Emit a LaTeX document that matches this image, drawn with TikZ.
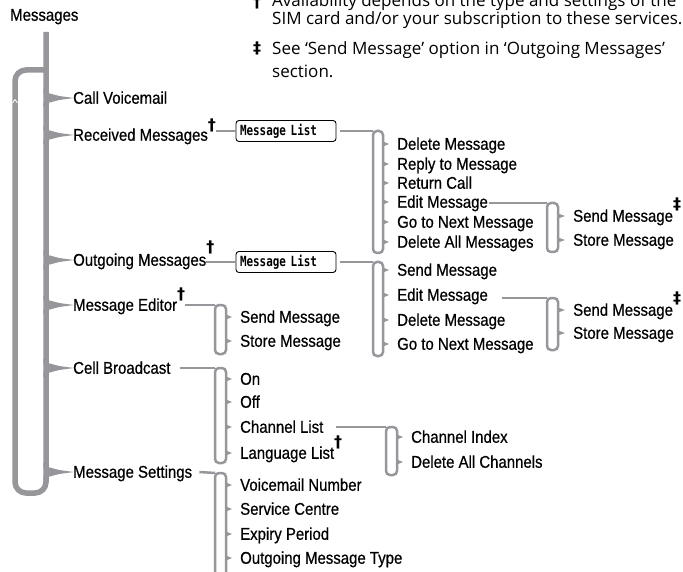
\documentclass[tikz,border=0pt]{standalone}
\usepackage{fontspec}
\usetikzlibrary{calc}
\setmainfont{Liberation Sans}
\newfontfamily\menufont{Liberation Sans}[FakeStretch=0.88,FakeBold=0.6]
\newfontfamily\notefont{Open Sans}
\newfontfamily\markfont{DejaVu Sans}
\newfontfamily\lcdfont{DejaVu Sans Mono}[FakeStretch=0.78]
\definecolor{treegray}{RGB}{150,150,155}
\newcommand\dagup[1]{\raisebox{#1}{\markfont\fontsize{16}{16}\selectfont\bfseries †}}
\newcommand\ddagup[1]{\raisebox{#1}{\markfont\fontsize{16}{16}\selectfont\bfseries ‡}}

\begin{document}
\begin{tikzpicture}[x=1pt,y=-1pt,
  item/.style={font=\menufont\fontsize{17}{19}\selectfont,inner sep=0pt,anchor=west,text height=11.5pt,text depth=0pt},
  note/.style={font=\notefont\fontsize{17}{19}\selectfont,inner sep=0pt,anchor=base west},
  lcdbox/.style={draw,line width=0.9pt,rounded corners=3pt,text width=92pt,align=left,inner xsep=4pt,minimum height=21pt,font=\lcdfont\bfseries\fontsize{14}{15}\selectfont},
  trunk/.style={draw=treegray,line width=5.5pt},
  branch/.style={draw=treegray,line width=2.5pt},
  brk/.style={branch,rounded corners=4pt},
  tick/.style={fill=treegray}]
  \useasboundingbox (0,0) rectangle (683,572);

  % notes
  \node[note] at (253,8) {\dagup{0pt}};
  \node[note] (n1) at (272,7) {Availability depends on the type and settings of the};
  \node[note] (n2) at (272,25) {SIM card and/or your subscription to these services.};
  \node[note] at (253,54) {\ddagup{0pt}};
  \node[note] (n3) at (272,55) {See ‘Send Message’ option in ‘Outgoing Messages’};
  \node[note] (n4) at (272,78) {section.};

  % main menu
  \node[item] (msg) at (10,15) {Messages};
  \node[item] (cv)  at (73,98)  {Call Voicemail};
  \node[item] (rcv) at (73,135) {Received Messages\dagup{10pt}};
  \node[item] (out) at (73,260) {Outgoing Messages\rlap{\dagup{13pt}}};
  \node[item] (edt) at (73,305) {Message Editor\dagup{11pt}};
  \node[item] (cb)  at (73,368) {Cell Broadcast};
  \node[item] (set) at (73,472) {Message Settings};

  \coordinate (top) at (46,32);
  \draw[trunk,rounded corners=11pt] (top) -- (46,493) -- (15,493) -- (15,70) -- (46,70);
  \draw[white,line width=0.8pt] (12.5,103) -- (15,99.5) -- (17.5,103);
  \foreach \n in {cv,rcv,out,edt,cb,set}{
    \coordinate (c) at (\n.west -| top);
    \draw[trunk] ($(c)+(0,-9)$) .. controls ($(c)+(0,-2)$) and ($(c)+(2,0)$) .. ($(c)+(7,0)$)
      .. controls ($(c)+(2,0)$) and ($(c)+(0,2)$) .. ($(c)+(0,9)$);
    \fill[treegray] ($(c)+(4,-4.5)$) -- ([xshift=-7pt]\n.west) -- ($(c)+(4,4.5)$) -- cycle;
  }

  % received messages
  \node[lcdbox] (rcvbox) at (286,131) {Message List};
  \node[item] (rd1) at (397,144) {Delete Message};
  \node[item] (rd2) at (397,164) {Reply to Message};
  \node[item] (rd3) at (397,183) {Return Call};
  \node[item] (rd4) at (397,202) {Edit Message};
  \node[item] (rd5) at (397,222) {Go to Next Message};
  \node[item] (rd6) at (397,242) {Delete All Messages};
  \coordinate (raT) at (373,131);
  \coordinate (raB) at (383,253);
  \draw[branch] (rcv.east |- rcvbox) -- (rcvbox.west);
  \draw[branch] ([xshift=4pt]rcvbox.east) -- (raT);
  \draw[brk] (raT) rectangle (raB);
  \foreach \n in {rd1,rd2,rd3,rd4,rd5,rd6}
    \fill[tick] ($(\n.west -| raB)+(0,-2.5)$) -- ([xshift=-8pt]\n.west) -- ($(\n.west -| raB)+(0,2.5)$) -- cycle;

  \node[item] (re1) at (573,216) {Send Message\ddagup{12pt}};
  \node[item] (re2) at (573,240) {Store Message};
  \coordinate (rbT) at (547,203);
  \coordinate (rbB) at (558,252);
  \draw[branch] ([xshift=1pt]rd4.east |- rbT) -- (rbT);
  \draw[brk] (rbT) rectangle (rbB);
  \foreach \n in {re1,re2}
    \fill[tick] ($(\n.west -| rbB)+(0,-2.5)$) -- ([xshift=-8pt]\n.west) -- ($(\n.west -| rbB)+(0,2.5)$) -- cycle;

  % outgoing messages
  \node[lcdbox] (outbox) at (286,262) {Message List};
  \node[item] (od1) at (397,270) {Send Message};
  \node[item] (od2) at (397,295) {Edit Message};
  \node[item] (od3) at (397,320) {Delete Message};
  \node[item] (od4) at (397,344) {Go to Next Message};
  \coordinate (oaT) at (373,262);
  \coordinate (oaB) at (383,356);
  \draw[branch] (out.east |- outbox) -- (outbox.west);
  \draw[branch] ([xshift=4pt]outbox.east) -- (oaT);
  \draw[brk] (oaT) rectangle (oaB);
  \foreach \n in {od1,od2,od3,od4}
    \fill[tick] ($(\n.west -| oaB)+(0,-2.5)$) -- ([xshift=-8pt]\n.west) -- ($(\n.west -| oaB)+(0,2.5)$) -- cycle;

  \node[item] (oe1) at (573,310) {Send Message\ddagup{12pt}};
  \node[item] (oe2) at (573,333) {Store Message};
  \coordinate (obT) at (547,298);
  \coordinate (obB) at (558,350);
  \draw[branch] ([xshift=14pt]od2.east |- obT) -- (obT);
  \draw[brk] (obT) rectangle (obB);
  \foreach \n in {oe1,oe2}
    \fill[tick] ($(\n.west -| obB)+(0,-2.5)$) -- ([xshift=-8pt]\n.west) -- ($(\n.west -| obB)+(0,2.5)$) -- cycle;

  % message editor
  \node[item] (es1) at (240,317) {Send Message};
  \node[item] (es2) at (240,341) {Store Message};
  \coordinate (eaT) at (215,305);
  \coordinate (eaB) at (226,354);
  \draw[branch] (edt.east) -- (eaT);
  \draw[brk] (eaT) rectangle (eaB);
  \foreach \n in {es1,es2}
    \fill[tick] ($(\n.west -| eaB)+(0,-2.5)$) -- ([xshift=-8pt]\n.west) -- ($(\n.west -| eaB)+(0,2.5)$) -- cycle;

  % cell broadcast
  \node[item] (cb1) at (240,379) {On};
  \node[item] (cb2) at (240,402) {Off};
  \node[item] (cb3) at (240,427) {Channel List};
  \node[item] (cb4) at (240,453) {Language List\dagup{11pt}};
  \coordinate (caT) at (215,368);
  \coordinate (caB) at (226,463);
  \draw[branch] ([xshift=9pt]cb.east) -- (caT);
  \draw[brk] (caT) rectangle (caB);
  \foreach \n in {cb1,cb2,cb3,cb4}
    \fill[tick] ($(\n.west -| caB)+(0,-2.5)$) -- ([xshift=-8pt]\n.west) -- ($(\n.west -| caB)+(0,2.5)$) -- cycle;

  \node[item] (ch1) at (411,437) {Channel Index};
  \node[item] (ch2) at (411,462) {Delete All Channels};
  \coordinate (cbT) at (386,427);
  \coordinate (cbB) at (397,475);
  \draw[branch] ([xshift=12pt]cb3.east) -- (cbT);
  \draw[brk] (cbT) rectangle (cbB);
  \foreach \n in {ch1,ch2}
    \fill[tick] ($(\n.west -| cbB)+(0,-2.5)$) -- ([xshift=-8pt]\n.west) -- ($(\n.west -| cbB)+(0,2.5)$) -- cycle;

  % message settings
  \node[item] (st1) at (240,485) {Voicemail Number};
  \node[item] (st2) at (240,509) {Service Centre};
  \node[item] (st3) at (240,534) {Expiry Period};
  \node[item] (st4) at (240,558) {Outgoing Message Type};
  \coordinate (saT) at (215,473);
  \coordinate (saB) at (226,585);
  \draw[branch] ([xshift=7pt]set.east) -- (saT);
  \draw[brk] (saT) rectangle (saB);
  \foreach \n in {st1,st2,st3,st4}
    \fill[tick] ($(\n.west -| saB)+(0,-2.5)$) -- ([xshift=-8pt]\n.west) -- ($(\n.west -| saB)+(0,2.5)$) -- cycle;
\end{tikzpicture}
\end{document}
